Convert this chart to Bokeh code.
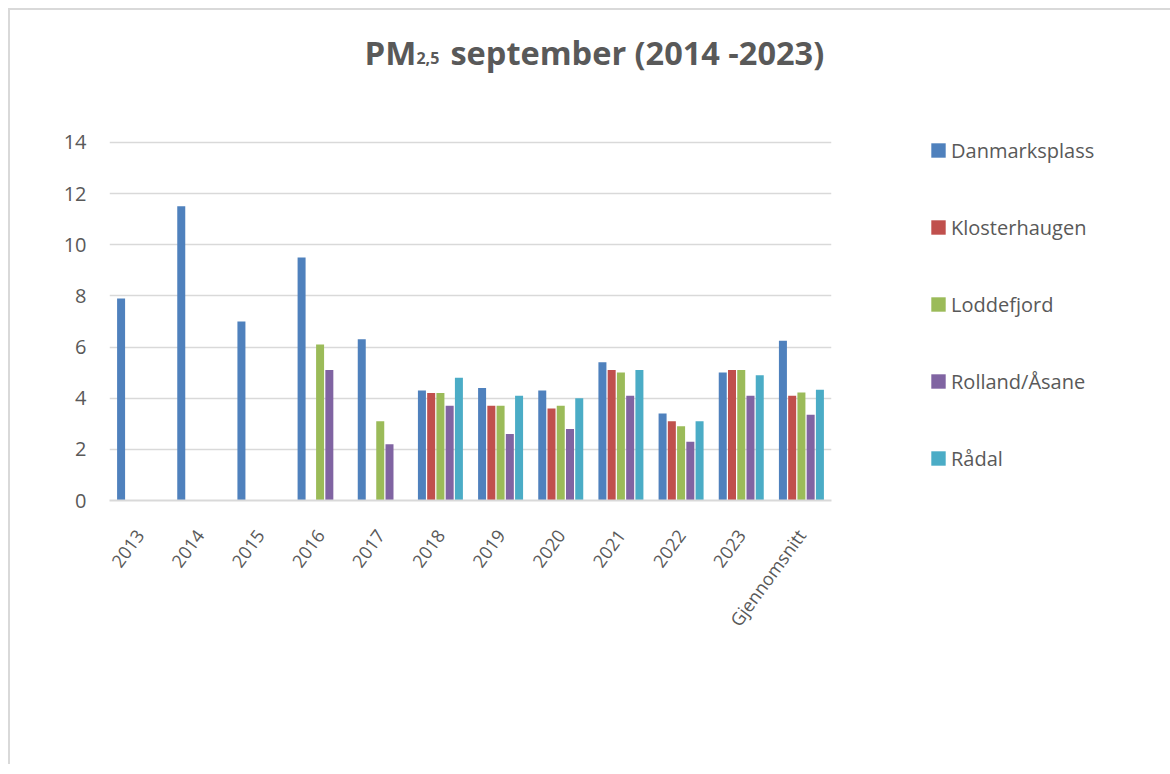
from bokeh.plotting import figure
from bokeh.models import FactorRange, Legend, LegendItem, FixedTicker, ColumnDataSource
from bokeh.core.properties import value
from bokeh.transform import dodge
from bokeh.embed import file_html
from bokeh.resources import INLINE

nan = float("nan")

categories = ["2013", "2014", "2015", "2016", "2017", "2018", "2019", "2020",
              "2021", "2022", "2023", "Gjennomsnitt"]
danmarksplass = [7.9, 11.5, 7.0, 9.5, 6.3, 4.3, 4.4, 4.3, 5.4, 3.4, 5.0, 6.25]
klosterhaugen = [nan, nan, nan, nan, nan, 4.2, 3.7, 3.6, 5.1, 3.1, 5.1, 4.1]
loddefjord = [nan, nan, nan, 6.1, 3.1, 4.2, 3.7, 3.7, 5.0, 2.9, 5.1, 4.22]
rolland_asane = [nan, nan, nan, 5.1, 2.2, 3.7, 2.6, 2.8, 4.1, 2.3, 4.1, 3.35]
radal = [nan, nan, nan, nan, nan, 4.8, 4.1, 4.0, 5.1, 3.1, 4.9, 4.33]

series_names = ["Danmarksplass", "Klosterhaugen", "Loddefjord", "Rolland/Åsane", "Rådal"]
series_values = [danmarksplass, klosterhaugen, loddefjord, rolland_asane, radal]
series_colors = ["#4F81BD", "#C0504D", "#9BBB59", "#8064A2", "#4BACC6"]
y_ticks = [0, 2, 4, 6, 8, 10, 12, 14]

title_parts = ["PM", "2,5", "september (2014 -2023)"]

TEXT = "#595959"
FONT = "Open Sans"

source = ColumnDataSource(dict(cat=categories, **{f"s{i}": v for i, v in enumerate(series_values)}))

# frame extends above the 14 gridline so the title can live inside it
p = figure(
    x_range=FactorRange(*categories, range_padding=0),
    y_range=(0, 19),
    frame_width=722, frame_height=486,
    min_border_left=99, min_border_right=0, min_border_top=4, min_border_bottom=264,
    output_backend="svg", toolbar_location=None,
    background_fill_color="white", border_fill_color="white",
    styles={"margin-top": "8px", "margin-left": "8px",
            "border-top": "2px solid #d9d9d9", "border-left": "2px solid #d9d9d9"},
)
p.outline_line_color = None

stride = 0.1537
bar_w = 0.133
items = []
for i, (name, color) in enumerate(zip(series_names, series_colors)):
    r = p.vbar(x=dodge("cat", (i - 2) * stride, range=p.x_range), top=f"s{i}",
               width=bar_w, source=source, fill_color=color, line_color=None)
    items.append(LegendItem(label=name, renderers=[r]))

p.yaxis.ticker = FixedTicker(ticks=y_ticks)
p.yaxis.axis_line_color = None
p.yaxis.major_tick_line_color = None
p.yaxis.minor_tick_line_color = None
p.yaxis.major_label_standoff = 17
p.yaxis.major_label_text_font = FONT
p.yaxis.major_label_text_font_size = "20px"
p.yaxis.major_label_text_color = TEXT

p.xaxis.axis_line_color = "#d9d9d9"
p.xaxis.axis_line_width = 2
p.xaxis.major_tick_line_color = None
p.xaxis.minor_tick_line_color = None
p.xaxis.major_label_orientation = 0.94
p.xaxis.major_label_standoff = 25
p.xaxis.major_label_text_font = FONT
p.xaxis.major_label_text_font_size = "18px"
p.xaxis.major_label_text_color = TEXT

p.xgrid.grid_line_color = None
p.ygrid.grid_line_color = "#d9d9d9"
p.ygrid.grid_line_width = 1.5

legend = Legend(items=items, location=(98, 28), padding=0, margin=0,
                glyph_width=18, glyph_height=18, label_standoff=4,
                label_height=28, spacing=49,
                label_text_font=FONT, label_text_font_size="20px",
                label_text_color=TEXT, border_line_color=None,
                background_fill_alpha=0)
p.add_layout(legend, "right")

# title "PM2,5 september (2014 -2023)" with subscript
p.text(x=[4.238], y=[17.52], text=[title_parts[0]],
       text_font=value(FONT), text_font_style="bold", text_font_size="33px",
       text_color=TEXT, text_baseline="alphabetic", text_align="left")
p.text(x=[5.102], y=[17.28], text=[title_parts[1]],
       text_font=value(FONT), text_font_style="bold", text_font_size="16px",
       text_color=TEXT, text_baseline="alphabetic", text_align="left")
p.text(x=[5.667], y=[17.52], text=[title_parts[2]],
       text_font=value(FONT), text_font_style="bold", text_font_size="32.5px",
       text_color=TEXT, text_baseline="alphabetic", text_align="left")

open("out.html", "w").write(file_html(p, INLINE))
